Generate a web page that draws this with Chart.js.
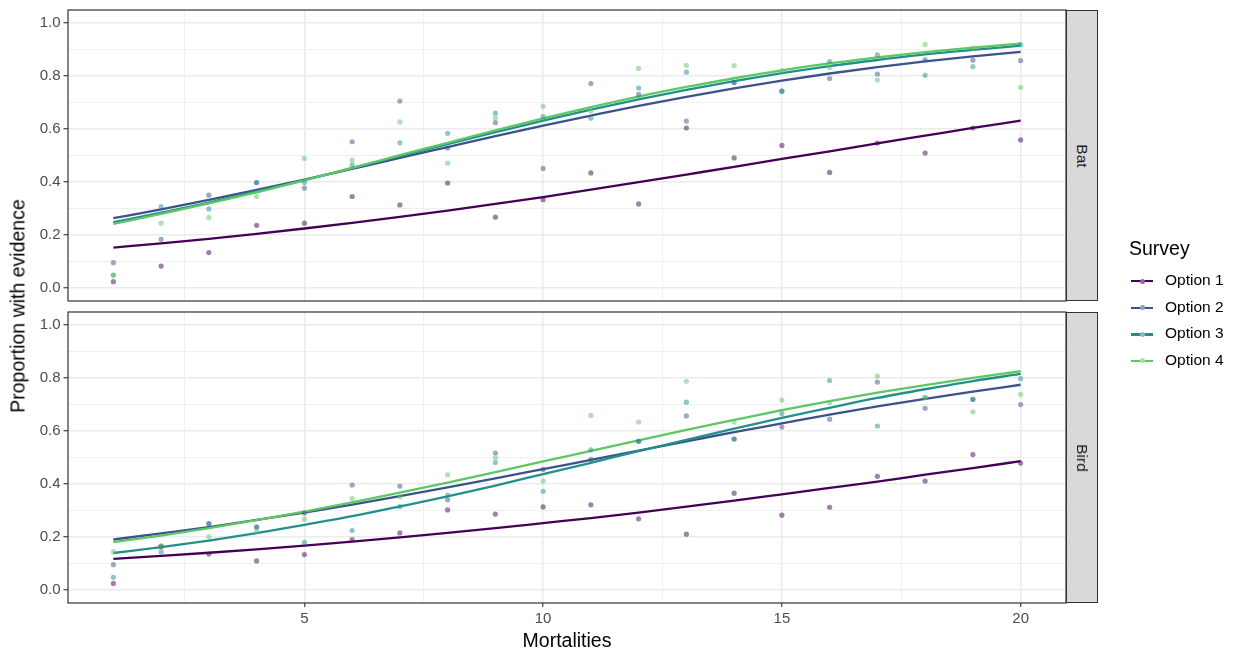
<!DOCTYPE html>
<html>
<head>
<meta charset="utf-8">
<script src="https://cdn.jsdelivr.net/npm/chart.js@4"></script>
<style>
  html, body { margin: 0; padding: 0; background: #fff; }
  body { width: 1243px; height: 655px; position: relative; overflow: hidden;
         font-family: "Liberation Sans", Arial, sans-serif; }
  canvas { position: absolute; left: 0; }
  #cBat { top: 0; }
  #cBird { top: 305px; }
  .strip { position: absolute; left: 1066px; width: 32px; height: 291px; background: #D9D9D9;
           border: 1.2px solid #333; box-sizing: border-box; }
  .strip span { position: absolute; left: 50%; top: 50%; white-space: nowrap;
                transform: translate(-50%, -50%) rotate(90deg); font-size: 15.5px; color: #1A1A1A; }
  .ytitle { position: absolute; left: 18px; top: 306px; white-space: nowrap; font-size: 19.5px; color: #000;
            transform: translate(-50%, -50%) rotate(-90deg); }
  .xtitle { position: absolute; left: 567px; top: 640px; white-space: nowrap; font-size: 19.5px; color: #000;
            transform: translate(-50%, -50%); }
  .legend { position: absolute; left: 1129px; top: 236px; width: 114px; }
  .legend .ttl { font-size: 19.5px; color: #000; height: 32px; line-height: 24px; white-space: nowrap; }
  .legend .item { position: relative; height: 26.6px; }
  .legend .key { position: absolute; left: 2px; top: 12px; width: 22px; height: 2.4px; }
  .legend .dot { position: absolute; left: 8.5px; top: -1.5px; width: 5px; height: 5px; border-radius: 50%; }
  .legend .lab { position: absolute; left: 36px; top: 3px; font-size: 15.5px; color: #000; white-space: nowrap; }
</style>
</head>
<body>
<canvas id="cBat" width="1243" height="305"></canvas>
<canvas id="cBird" width="1243" height="350"></canvas>
<div class="strip" style="top:10px"><span>Bat</span></div>
<div class="strip" style="top:312px"><span>Bird</span></div>
<div class="ytitle">Proportion with evidence</div>
<div class="xtitle">Mortalities</div>
<div class="legend" id="legend"><div class="ttl">Survey</div></div>
<script>
// Mortalities on the x axis
const mortalities = [1, 2, 3, 4, 5, 6, 7, 8, 9, 10, 11, 12, 13, 14, 15, 16, 17, 18, 19, 20];
const surveys = ["Option 1", "Option 2", "Option 3", "Option 4"];

// Axis breaks
const yMajor = [0, 0.2, 0.4, 0.6, 0.8, 1.0];
const yMinor = [0.1, 0.3, 0.5, 0.7, 0.9];
const xMajor = [5, 10, 15, 20];
const xMinor = [2.5, 7.5, 12.5, 17.5];

// Bat: observed proportions
const batObs1 = [0.023, 0.082, 0.133, 0.236, 0.244, 0.345, 0.313, 0.396, 0.267, 0.333, 0.434, 0.317, 0.604, 0.491, 0.538, 0.436, 0.547, 0.509, 0.604, 0.559];
const batObs2 = [0.095, 0.183, 0.350, 0.398, 0.377, 0.552, 0.706, 0.528, 0.624, 0.451, 0.772, 0.731, 0.630, 0.776, 0.743, 0.791, 0.808, 0.862, 0.860, 0.859];
const batObs3 = [0.048, 0.307, 0.298, 0.398, 0.398, 0.465, 0.548, 0.584, 0.660, 0.647, 0.641, 0.755, 0.815, 0.776, 0.743, 0.855, 0.880, 0.803, 0.836, 0.919];
const batObs4 = [0.048, 0.244, 0.266, 0.345, 0.489, 0.483, 0.627, 0.471, 0.642, 0.686, 0.668, 0.829, 0.841, 0.840, 0.821, 0.832, 0.785, 0.920, 0.906, 0.758];

// Bat: fitted curves
const batFit1 = [0.152, 0.168, 0.185, 0.204, 0.224, 0.245, 0.268, 0.292, 0.317, 0.343, 0.371, 0.399, 0.428, 0.457, 0.487, 0.516, 0.546, 0.575, 0.604, 0.632];
const batFit2 = [0.263, 0.296, 0.332, 0.370, 0.409, 0.449, 0.491, 0.532, 0.573, 0.613, 0.651, 0.688, 0.722, 0.754, 0.783, 0.810, 0.834, 0.856, 0.875, 0.892];
const batFit3 = [0.248, 0.284, 0.322, 0.364, 0.407, 0.452, 0.498, 0.543, 0.588, 0.632, 0.673, 0.712, 0.748, 0.781, 0.811, 0.838, 0.861, 0.882, 0.899, 0.915];
const batFit4 = [0.242, 0.279, 0.319, 0.361, 0.406, 0.453, 0.501, 0.548, 0.595, 0.640, 0.683, 0.723, 0.759, 0.792, 0.822, 0.848, 0.871, 0.891, 0.908, 0.923];

// Bird: observed proportions
const birdObs1 = [0.024, 0.163, 0.135, 0.109, 0.133, 0.190, 0.215, 0.302, 0.286, 0.313, 0.321, 0.268, 0.210, 0.365, 0.282, 0.312, 0.429, 0.411, 0.511, 0.479];
const birdObs2 = [0.095, 0.165, 0.250, 0.237, 0.290, 0.396, 0.392, 0.340, 0.517, 0.455, 0.493, 0.561, 0.657, 0.570, 0.615, 0.645, 0.785, 0.686, 0.720, 0.700];
const birdObs3 = [0.047, 0.143, 0.250, 0.237, 0.179, 0.224, 0.314, 0.358, 0.481, 0.372, 0.529, 0.561, 0.709, 0.570, 0.666, 0.791, 0.619, 0.726, 0.720, 0.798];
const birdObs4 = [0.143, 0.165, 0.200, 0.220, 0.267, 0.345, 0.352, 0.434, 0.499, 0.411, 0.659, 0.634, 0.788, 0.634, 0.717, 0.707, 0.808, 0.727, 0.673, 0.739];

// Bird: fitted curves
const birdFit1 = [0.117, 0.128, 0.140, 0.153, 0.167, 0.182, 0.198, 0.215, 0.233, 0.252, 0.271, 0.292, 0.314, 0.337, 0.361, 0.385, 0.409, 0.435, 0.460, 0.486];
const birdFit2 = [0.190, 0.213, 0.237, 0.264, 0.292, 0.322, 0.354, 0.387, 0.421, 0.456, 0.491, 0.526, 0.561, 0.596, 0.629, 0.662, 0.693, 0.722, 0.749, 0.775];
const birdFit3 = [0.139, 0.161, 0.186, 0.214, 0.245, 0.278, 0.315, 0.353, 0.394, 0.437, 0.480, 0.524, 0.567, 0.609, 0.650, 0.688, 0.725, 0.758, 0.789, 0.816];
const birdFit4 = [0.180, 0.205, 0.233, 0.263, 0.295, 0.330, 0.367, 0.405, 0.445, 0.485, 0.525, 0.565, 0.604, 0.642, 0.679, 0.713, 0.745, 0.774, 0.801, 0.826];

const palette = ["#440154", "#3B528B", "#21908C", "#5DC863"];
const pointAlpha = ["rgba(68,1,84,0.5)", "rgba(59,82,139,0.5)", "rgba(33,144,140,0.5)", "rgba(93,200,99,0.5)"];
const keyDot = ["#8A6A98", "#8D9DBF", "#7FC2BF", "#A7DEA9"];

Chart.defaults.font.family = '"Liberation Sans", Arial, sans-serif';
Chart.defaults.animation = false;

const pairs = (ys) => mortalities.map((x, i) => ({ x: x, y: ys[i] }));
const yAll = yMajor.concat(yMinor).sort((a, b) => a - b);
const xAll = xMajor.concat(xMinor).sort((a, b) => a - b);

const panelFrame = {
  id: 'panelFrame',
  afterDraw(chart) {
    const a = chart.chartArea, c = chart.ctx;
    c.save();
    c.strokeStyle = '#333333';
    c.lineWidth = 1.2;
    c.strokeRect(a.left, a.top, a.right - a.left, a.bottom - a.top);
    c.restore();
  }
};

function buildPanel(id, obs, fits, bottomAxis) {
  const datasets = [];
  fits.forEach((f, i) => datasets.push({
    type: 'line', label: surveys[i], data: pairs(f), borderColor: palette[i], borderWidth: 2.3,
    pointRadius: 0, fill: false, cubicInterpolationMode: 'monotone', order: 8 - i
  }));
  obs.forEach((o, i) => datasets.push({
    type: 'scatter', label: surveys[i], data: pairs(o), backgroundColor: pointAlpha[i],
    borderWidth: 0, pointRadius: 2.6, order: 4 - i
  }));

  const isMajorX = (v) => xMajor.includes(v);
  const isMajorY = (v) => yMajor.includes(v);

  return new Chart(document.getElementById(id), {
    data: { datasets },
    options: {
      responsive: false,
      events: [],
      layout: { padding: { left: 0, right: 177, top: bottomAxis ? 7 : 10, bottom: bottomAxis ? 0 : 4 } },
      plugins: { legend: { display: false }, tooltip: { enabled: false } },
      scales: {
        x: {
          type: 'linear', min: 0.05, max: 20.95,
          afterBuildTicks: (s) => { s.ticks = xAll.map(v => ({ value: v })); },
          afterFit: (s) => { s.height = bottomAxis ? 52 : 0; s.paddingLeft = 0; s.paddingRight = 0; },
          border: { display: false },
          grid: {
            color: (c) => isMajorX(c.tick.value) ? '#EBEBEB' : '#F0F0F0',
            lineWidth: (c) => isMajorX(c.tick.value) ? 1.5 : 1,
            drawTicks: bottomAxis, tickLength: 4,
            tickColor: (c) => isMajorX(c.tick.value) ? '#333333' : 'rgba(0,0,0,0)',
            tickWidth: 1.1
          },
          ticks: {
            display: bottomAxis, autoSkip: false, maxRotation: 0, minRotation: 0, padding: 3,
            color: '#4D4D4D', font: { size: 15 },
            callback: (v) => isMajorX(v) ? String(v) : ''
          }
        },
        y: {
          type: 'linear', min: -0.05, max: 1.05,
          afterBuildTicks: (s) => { s.ticks = yAll.map(v => ({ value: v })); },
          afterFit: (s) => { s.width = 68; s.paddingTop = 0; s.paddingBottom = 0; },
          border: { display: false },
          grid: {
            color: (c) => isMajorY(c.tick.value) ? '#EBEBEB' : '#F0F0F0',
            lineWidth: (c) => isMajorY(c.tick.value) ? 1.5 : 1,
            tickLength: 4.5,
            tickColor: (c) => isMajorY(c.tick.value) ? '#333333' : 'rgba(0,0,0,0)',
            tickWidth: 1.1
          },
          ticks: {
            autoSkip: false, padding: 3, color: '#4D4D4D', font: { size: 15 },
            callback: (v) => isMajorY(v) ? v.toFixed(1) : ''
          }
        }
      }
    },
    plugins: [panelFrame]
  });
}

buildPanel('cBat', [batObs1, batObs2, batObs3, batObs4], [batFit1, batFit2, batFit3, batFit4], false);
buildPanel('cBird', [birdObs1, birdObs2, birdObs3, birdObs4], [birdFit1, birdFit2, birdFit3, birdFit4], true);

// Legend entries
const legend = document.getElementById('legend');
surveys.forEach((s, i) => {
  const item = document.createElement('div');
  item.className = 'item';
  item.innerHTML = '<div class="key" style="background:' + palette[i] + '"><div class="dot" style="background:' +
    keyDot[i] + '"></div></div><div class="lab">' + s + '</div>';
  legend.appendChild(item);
});
</script>
</body>
</html>
